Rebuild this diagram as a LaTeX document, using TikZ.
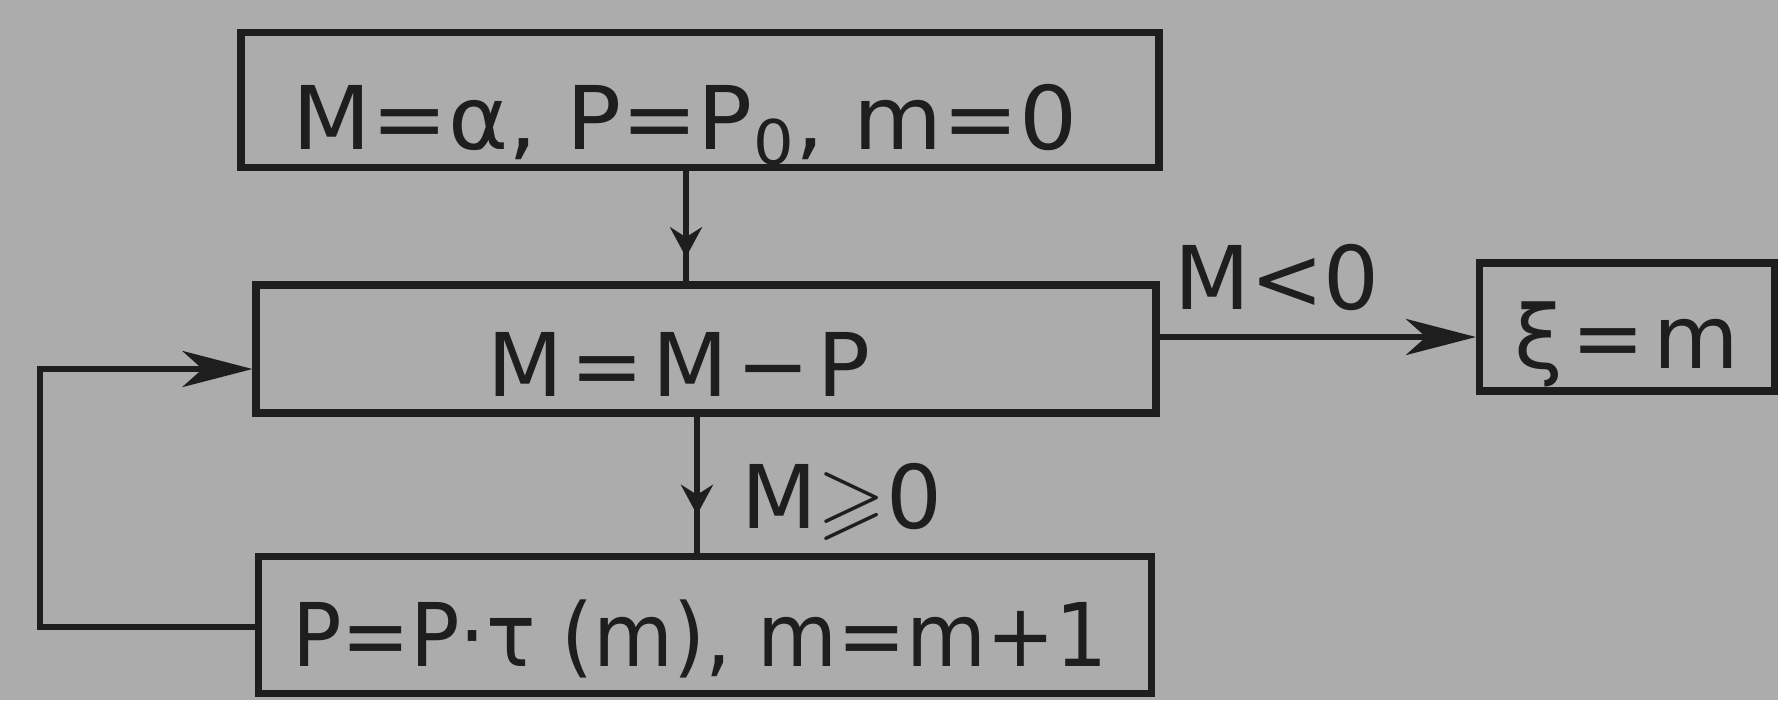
\documentclass[tikz,border=0pt]{standalone}
\usepackage{amssymb}
\usepackage{fontspec}
\setmainfont{DejaVu Sans}
\usetikzlibrary{arrows.meta,decorations.markings,calc}
\definecolor{paper}{RGB}{172,172,172}
\definecolor{ink}{RGB}{30,30,30}
% #1 = twice the horizontal shift, #2 = vertical shift, #3 = text
\newcommand\offtxt[3]{\raisebox{#2}[\height][\depth]{\hspace*{#1}#3}}
\begin{document}
\begin{tikzpicture}[x=0.1mm,y=-0.1mm,
  box/.style={draw=ink, line width=2pt, fill=paper, inner sep=0pt, text=ink,
    font=\fontsize{25}{30}\selectfont},
  lbl/.style={text=ink, inner sep=0pt, font=\fontsize{25}{30}\selectfont},
  conn/.style={draw=ink, line width=1.7pt},
  harrow/.style={-{Stealth[length=7mm,width=3.6mm,inset=2mm]}},
  midarrow/.style={postaction={decorate, decoration={markings,
    mark=at position #1 with {\arrow{Stealth[length=3mm,width=3.2mm,inset=1mm]}}}}}
]
\fill[paper] (0,0) rectangle (1778,700);
\useasboundingbox (0,0) rectangle (1778,700);

\node[box, minimum width=91.8mm, minimum height=13.5mm] (top) at (700,100)
  {\offtxt{-3mm}{-2.5mm}{\scalebox{1.04}[1]{M=α, P=P\textsubscript{0}, m=0}}};
\node[box, minimum width=90mm, minimum height=12.8mm] (mid) at (706,349)
  {\offtxt{-5.4mm}{-1.5mm}{M\hspace{0.8mm}=\hspace{0.8mm}M\hspace{0.8mm}−\hspace{0.8mm}P}};
\node[box, minimum width=89.3mm, minimum height=13.7mm] (bot) at (705,625)
  {\offtxt{-1mm}{-1.4mm}{\scalebox{0.935}[1]{P=P·τ (m), m=m+1}}};
\node[box, minimum width=29.5mm, minimum height=12.8mm] (res) at (1627,327)
  {\offtxt{0mm}{-1.7mm}{ξ\hspace{0.8mm}=\hspace{0.8mm}m}};

\node[lbl] (lneg) at (1277,278) {M<0};
\node[lbl] (lpos) at (842,502) {M$\geqslant$0};

\coordinate (lp) at (40,0);

\draw[conn, midarrow=0.78] ([xshift=-1.4mm]top.south) -- ([xshift=-1.4mm]top.south |- mid.north);
\draw[conn, midarrow=0.72] ([xshift=-0.9mm]mid.south) -- ([xshift=-0.9mm]mid.south |- bot.north);
\draw[conn, harrow] ([yshift=-1mm]res.west -| mid.east) -- ([yshift=-1mm]res.west);
\draw[conn, harrow] ([yshift=-0.2mm]bot.west) -- ([yshift=-0.2mm]bot.west -| lp)
  |- ([yshift=-2mm]mid.west);
\end{tikzpicture}
\end{document}
